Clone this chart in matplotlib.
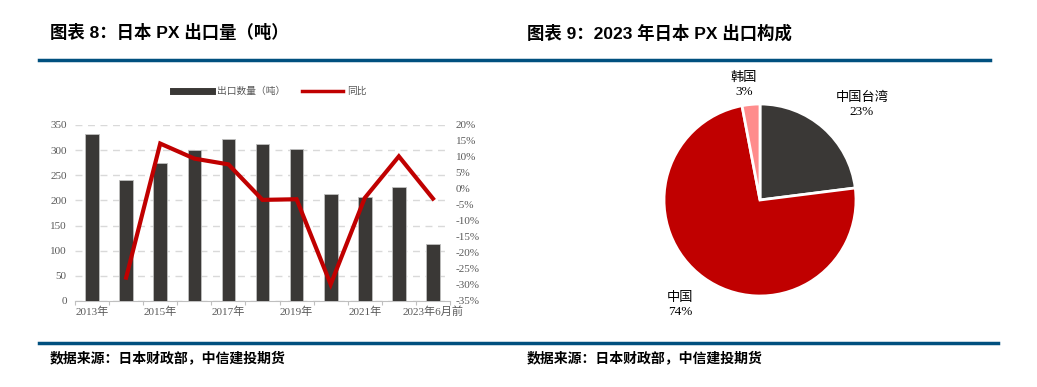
import matplotlib
matplotlib.use("Agg")
import matplotlib.pyplot as plt
import numpy as np

plt.rcParams['font.family'] = ['Liberation Serif', 'Noto Sans CJK SC', 'DejaVu Sans']

years = ["2013年", "2014年", "2015年", "2016年", "2017年", "2018年", "2019年",
         "2020年", "2021年", "2022年", "2023年6月前"]
export_vol = [332, 240, 274, 300, 323, 312, 302, 212, 206, 227, 114]
yoy = [None, -27.7, 14.2, 9.5, 7.7, -3.4, -3.2, -29.8, -2.8, 10.2, -3.0]

pie_labels = ["中国台湾", "中国", "韩国"]
pie_shares = [23, 74, 3]
pie_colors = ["#3A3836", "#C00000", "#FF8C8C"]

W, H = 1037, 387
fig = plt.figure(figsize=(W / 100, H / 100), dpi=100)

def fx(px):
    return px / W

def fy(py):
    return 1 - py / H

blue = "#00507F"
title_font = ['Liberation Sans', 'Noto Sans CJK SC']
fig.text(fx(50), fy(33), "图表 8：日本 PX 出口量（吨）", fontsize=12.5, fontweight="bold",
         family=title_font, va="center")
fig.text(fx(527), fy(33), "图表 9：2023 年日本 PX 出口构成", fontsize=12.5, fontweight="bold",
         family=title_font, va="center")
fig.add_artist(plt.Line2D([fx(39), fx(990)], [fy(60), fy(60)], color=blue, lw=2.5))
fig.add_artist(plt.Line2D([fx(39), fx(998)], [fy(343), fy(343)], color=blue, lw=2.5))
fig.text(fx(50), fy(358), "数据来源：日本财政部，中信建投期货", fontsize=10, fontweight="bold",
         style="italic", family=['Noto Sans CJK SC'], va="center")
fig.text(fx(527), fy(358), "数据来源：日本财政部，中信建投期货", fontsize=10, fontweight="bold",
         style="italic", family=['Noto Sans CJK SC'], va="center")

# left chart
ax = fig.add_axes([fx(75), fy(301), fx(450) - fx(75), fy(125) - fy(301)])
x = np.arange(len(years))
ax.bar(x, export_vol, width=0.4, color="#3A3836", edgecolor="#BFBFBF", linewidth=0.6, zorder=3)
ax.set_xlim(-0.5, len(years) - 0.5)
ax.set_ylim(0, 350)
ax.set_yticks(range(0, 351, 50))
ax.yaxis.grid(True, linestyle=(0, (5, 4)), color="#D9D9D9", linewidth=1, zorder=0)
for s in ["top", "right", "left"]:
    ax.spines[s].set_visible(False)
ax.spines["bottom"].set_color("#BFBFBF")
ax.tick_params(axis="y", length=0, labelsize=8, labelcolor="#595959", pad=6)
ax.set_xticks(np.arange(len(years) + 1) - 0.5, minor=False)
ax.set_xticklabels([])
ax.tick_params(axis="x", which="major", length=3, color="#BFBFBF")
ax.set_xticks(x[::2], minor=True)
ax.set_xticklabels(years[::2], minor=True)
ax.tick_params(axis="x", which="minor", length=0, labelsize=8, labelcolor="#595959", pad=4)

ax2 = ax.twinx()
yx = [i for i, v in enumerate(yoy) if v is not None]
yv = [v for v in yoy if v is not None]
ax2.plot(yx, yv, color="#C00000", lw=3, zorder=4, solid_joinstyle="miter")
ax2.set_ylim(-35, 20)
ax2.set_yticks(range(-35, 21, 5))
ax2.set_yticklabels([f"{v}%" for v in range(-35, 21, 5)])
for s in ["top", "right", "left", "bottom"]:
    ax2.spines[s].set_visible(False)
ax2.tick_params(axis="y", length=0, labelsize=8, labelcolor="#595959", pad=4)

# legend
fig.add_artist(plt.Line2D([fx(173), fx(212)], [fy(91), fy(91)], color="#3A3836", lw=5))
fig.text(fx(217), fy(91), "出口数量（吨）", fontsize=7, color="#595959", va="center",
         family=['Noto Sans CJK SC'])
fig.add_artist(plt.Line2D([fx(302), fx(343)], [fy(91), fy(91)], color="#C00000", lw=2.5))
fig.text(fx(347), fy(91), "同比", fontsize=7, color="#595959", va="center",
         family=['Noto Sans CJK SC'])

# pie
pax = fig.add_axes([fx(664), fy(296), fx(856) - fx(664), fy(104) - fy(296)])
pax.pie(pie_shares, colors=pie_colors, startangle=90, counterclock=False,
        wedgeprops=dict(edgecolor="white", linewidth=2))
pax.set_xlim(-1, 1)
pax.set_ylim(-1, 1)
pax.set_aspect("auto")
pax.axis("off")

fig.text(fx(744), fy(85), "韩国\n3%", fontsize=9.5, ha="center", va="center", linespacing=1.3)
fig.text(fx(862), fy(105), "中国台湾\n23%", fontsize=9.5, ha="center", va="center", linespacing=1.3)
fig.text(fx(680), fy(305), "中国\n74%", fontsize=9.5, ha="center", va="center", linespacing=1.3)

fig.savefig("out.png", dpi=100)
